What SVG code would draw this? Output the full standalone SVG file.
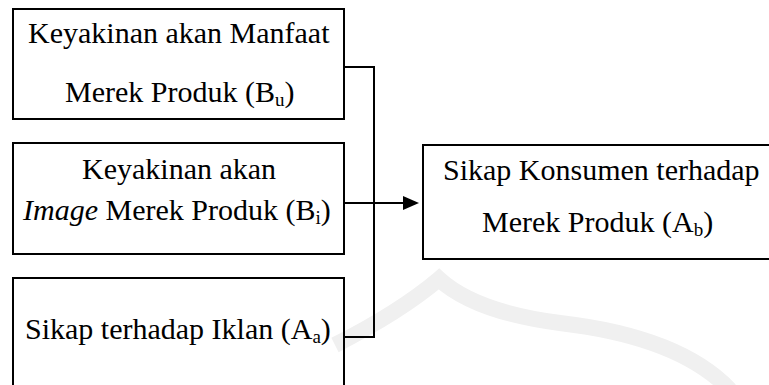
<svg xmlns="http://www.w3.org/2000/svg" width="769" height="385" viewBox="0 0 769 385">
<rect width="769" height="385" fill="#fff"/>
<path d="M335,345 Q400,312 439,279 Q475,312 560,323 Q680,337 730,390" fill="none" stroke="#f0f0f0" stroke-width="16"/>
<g id="n1">
<rect x="13" y="9" width="331" height="110" fill="none" stroke="#000" stroke-width="2"/>
<text x="28" y="43" font-family="Liberation Serif" font-size="30" style="font-family:'Liberation Serif'">Keyakinan akan Manfaat</text>
<text x="65" y="102" font-family="Liberation Serif" font-size="30" style="font-family:'Liberation Serif'">Merek Produk (B<tspan font-size="19" dy="4">u</tspan><tspan dy="-4">)</tspan></text>
</g>
<g id="n2">
<rect x="13" y="143" width="331" height="111" fill="none" stroke="#000" stroke-width="2"/>
<text x="82" y="179" font-family="Liberation Serif" font-size="30" style="font-family:'Liberation Serif'">Keyakinan akan</text>
<text x="23" y="220" font-family="Liberation Serif" font-size="30" style="font-family:'Liberation Serif'"><tspan font-style="italic">Image</tspan> Merek Produk (B<tspan font-size="19" dy="4">i</tspan><tspan dy="-4">)</tspan></text>
</g>
<g id="n3">
<rect x="13" y="278" width="331" height="130" fill="none" stroke="#000" stroke-width="2"/>
<text x="25" y="339" font-family="Liberation Serif" font-size="30" style="font-family:'Liberation Serif'">Sikap terhadap Iklan (A<tspan font-size="19" dy="4">a</tspan><tspan dy="-4">)</tspan></text>
</g>
<g id="n4">
<rect x="423" y="145" width="370" height="114" fill="none" stroke="#000" stroke-width="2"/>
<text x="443" y="180" font-family="Liberation Serif" font-size="30" style="font-family:'Liberation Serif'">Sikap Konsumen terhadap</text>
<text x="482" y="232" font-family="Liberation Serif" font-size="30" style="font-family:'Liberation Serif'">Merek Produk  (A<tspan font-size="19" dy="4">b</tspan><tspan dy="-4">)</tspan></text>
</g>
<g id="connectors" fill="none" stroke="#000" stroke-width="2">
<path d="M344,67 H374 V337 H344"/>
<path d="M344,203 H405"/>
<polygon points="403,196 419,203 403,210" fill="#000" stroke="none"/>
</g>
</svg>
